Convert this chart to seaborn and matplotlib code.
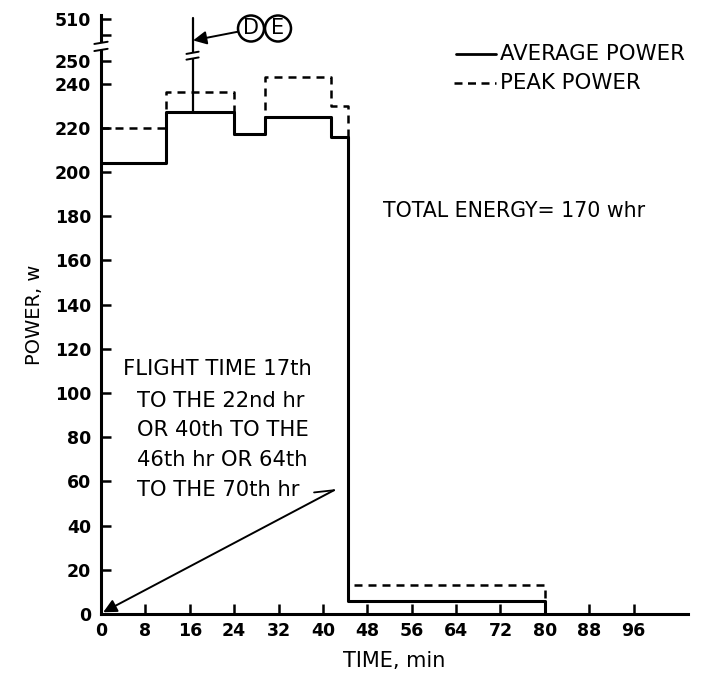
import matplotlib
matplotlib.use("Agg")
import matplotlib.pyplot as plt
from matplotlib.patches import Circle, Rectangle
import numpy as np
import pandas as pd
import seaborn as sns

# Step boundaries (min) and power levels (w); the last entry closes the step
step_times = [0, 11.7, 24, 29.5, 41.5, 44.5, 80]
average_power = [204, 227, 217, 225, 216, 6, 0]
peak_power = [220, 236, 217, 243, 230, 13, 6]

x_ticks = [0, 8, 16, 24, 32, 40, 48, 56, 64, 72, 80, 88, 96]
y_ticks = [0, 20, 40, 60, 80, 100, 120, 140, 160, 180, 200, 220, 240, 250]
y_tick_labels = ["0", "20", "40", "60", "80", "100", "120", "140", "160",
                 "180", "200", "220", "240", "250"]
top_label = "510"
de_time = 16.5
de_base = 227

sns.set_theme(style="ticks")
plt.rcParams["font.family"] = ["DejaVu Sans"]
plt.rcParams["text.color"] = "black"
plt.rcParams["axes.labelcolor"] = "black"

df = pd.DataFrame({"time": step_times, "avg": average_power, "peak": peak_power})

fig = plt.figure(figsize=(7.05, 6.79), dpi=100)
ax = fig.add_axes([101 / 705, 65 / 679, 587 / 705, 599 / 679])

sns.lineplot(data=df, x="time", y="avg", ax=ax, estimator=None, sort=False,
             drawstyle="steps-post", color="black", lw=2.2)
sns.lineplot(data=df, x="time", y="peak", ax=ax, estimator=None, sort=False,
             drawstyle="steps-post", color="black", lw=1.8)
ax.lines[-1].set_dashes([3.2, 2.4])

ax.set_xlim(0, 105.8)
ax.set_ylim(0, 271)
for s in ["top", "right"]:
    ax.spines[s].set_visible(False)
for s in ["left", "bottom"]:
    ax.spines[s].set_linewidth(2.2)
    ax.spines[s].set_color("black")

ax.set_xticks(x_ticks)
ax.set_xticklabels([str(t) for t in x_ticks])
ax.set_yticks(y_ticks + [269])
ax.set_yticklabels(y_tick_labels + [top_label])
ax.set_yticks([262], minor=True)
ax.tick_params(axis="both", which="both", direction="in", length=7, width=1.8,
               color="black", labelsize=12.5, labelcolor="black")
ax.tick_params(axis="y", pad=7)
ax.tick_params(axis="x", pad=6)
for lab in ax.get_xticklabels() + ax.get_yticklabels():
    lab.set_fontweight("bold")

ax.set_xlabel("TIME, min", fontsize=15, labelpad=8)
ax.set_ylabel("POWER, w", fontsize=14, labelpad=8)

# break in the vertical axis between 250 and 510
ax.add_patch(Rectangle((-1.5, 255.2), 3.0, 3.2, facecolor="white",
                       edgecolor="none", clip_on=False, zorder=5))
for yb in (255.2, 258.4):
    ax.plot([-1.2, 1.2], [yb - 0.5, yb + 0.5], color="black", lw=1.4,
            clip_on=False, zorder=6)

# D/E event marker line with its own break
ax.plot([de_time, de_time], [de_base, 269.5], color="black", lw=1.6, zorder=4)
ax.add_patch(Rectangle((de_time - 1.4, 251.3), 2.8, 2.6, facecolor="white",
                       edgecolor="none", zorder=5))
for yb in (251.3, 253.9):
    ax.plot([de_time - 1.1, de_time + 1.1], [yb - 0.5, yb + 0.5], color="black",
            lw=1.4, zorder=6)

# circled event letters
for cx, letter in ((251, "D"), (278, "E")):
    center = (cx / 100, (679 - 28.5) / 100)
    fig.patches.append(Circle(center, 0.13, transform=fig.dpi_scale_trans,
                              facecolor="white", edgecolor="black", lw=1.8))
    fig.text(center[0] / 7.05, center[1] / 6.79, letter, ha="center",
             va="center", fontsize=15)
ax.annotate("", xy=(de_time + 0.1, 259.5), xytext=(24.8, 263.5),
            arrowprops=dict(arrowstyle="-|>", color="black", lw=1.4,
                            mutation_scale=20, shrinkA=0, shrinkB=0),
            annotation_clip=False)

# legend drawn as line samples with captions
ax.plot([64.0, 71.2], [253.4, 253.4], color="black", lw=2.0, clip_on=False)
ax.text(72.0, 253.4, "AVERAGE POWER", fontsize=15.3, va="center", ha="left")
ax.plot([63.7, 71.2], [240.3, 240.3], color="black", lw=1.8, clip_on=False,
        dashes=[3.2, 2.2])
ax.text(72.0, 240.3, "PEAK POWER", fontsize=15.3, va="center", ha="left")

ax.text(50.8, 182.4, "TOTAL ENERGY= 170 whr", fontsize=14.8, va="center",
        ha="left")

flight_lines = ["FLIGHT TIME 17th", "TO THE 22nd hr", "OR 40th TO THE",
                "46th hr OR 64th", "TO THE 70th hr"]
line_y = [110.9, 96.4, 83.3, 69.7, 56.1]
line_x = [4.0, 6.5, 6.5, 6.5, 6.5]
for txt, tx, ty in zip(flight_lines, line_x, line_y):
    ax.text(tx, ty, txt, fontsize=15.2, va="center", ha="left")

ax.plot([38.4, 42.0], [55.0, 56.0], color="black", lw=1.3)
ax.annotate("", xy=(0.4, 0.8), xytext=(42.0, 56.0),
            arrowprops=dict(arrowstyle="-|>", color="black", lw=1.4,
                            mutation_scale=20, shrinkA=0, shrinkB=0),
            annotation_clip=False)

fig.savefig("out.png", dpi=100, facecolor="white")
